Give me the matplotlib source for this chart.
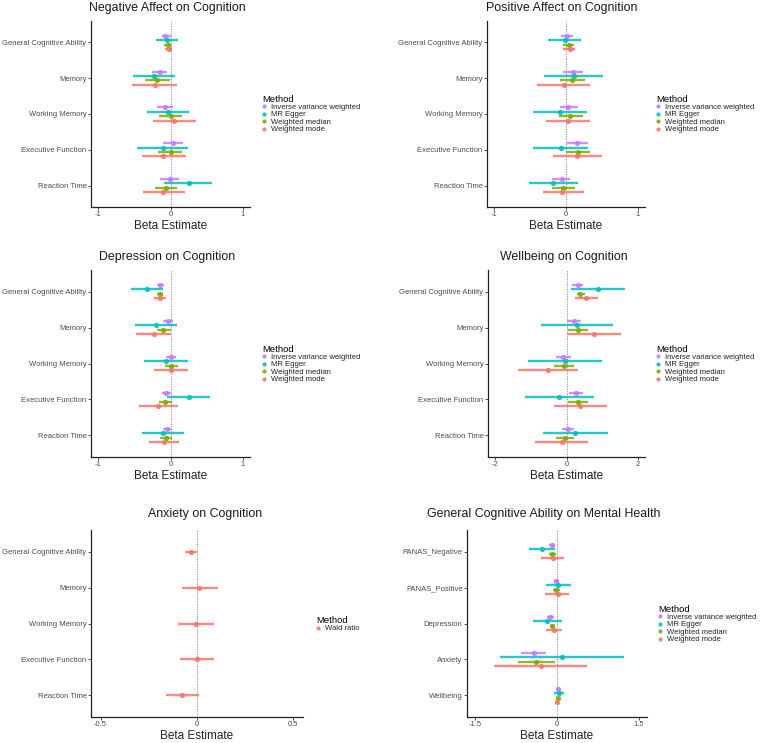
import matplotlib
matplotlib.use("Agg")
import matplotlib.pyplot as plt
from matplotlib.lines import Line2D

plt.rcParams['font.family'] = ['Liberation Sans', 'DejaVu Sans']

# ---------------- data: (estimate, lower CI, upper CI) per outcome ----------------
cog_outcomes = ["General Cognitive Ability", "Memory", "Working Memory",
                "Executive Function", "Reaction Time"]
mh_outcomes = ["PANAS_Negative", "PANAS_Positive", "Depression", "Anxiety", "Wellbeing"]
methods = ["Inverse variance weighted", "MR Egger", "Weighted median", "Weighted mode"]
method_colors = ["#C77CFF", "#00BFC4", "#7CAE00", "#F8766D"]

# Negative Affect on Cognition
neg_ivw = [(-0.07, -0.12, 0.00), (-0.15, -0.26, -0.05), (-0.08, -0.19, 0.04), (0.03, -0.10, 0.17), (-0.01, -0.15, 0.12)]
neg_egger = [(-0.05, -0.20, 0.11), (-0.23, -0.52, 0.06), (-0.03, -0.33, 0.26), (-0.11, -0.46, 0.24), (0.25, -0.09, 0.58)]
neg_median = [(-0.04, -0.09, 0.01), (-0.18, -0.35, -0.01), (0.00, -0.16, 0.16), (0.00, -0.17, 0.16), (-0.06, -0.21, 0.09)]
neg_mode = [(-0.02, -0.07, 0.02), (-0.22, -0.53, 0.09), (0.05, -0.24, 0.35), (-0.10, -0.39, 0.21), (-0.10, -0.38, 0.20)]

# Positive Affect on Cognition
pos_ivw = [(0.01, -0.07, 0.10), (0.10, -0.04, 0.24), (0.03, -0.09, 0.17), (0.16, 0.02, 0.30), (-0.06, -0.19, 0.06)]
pos_egger = [(-0.02, -0.25, 0.21), (0.11, -0.31, 0.51), (-0.09, -0.46, 0.29), (-0.07, -0.46, 0.31), (-0.18, -0.52, 0.17)]
pos_median = [(0.04, -0.04, 0.11), (0.08, -0.09, 0.27), (0.06, -0.10, 0.24), (0.17, 0.00, 0.34), (-0.04, -0.20, 0.13)]
pos_mode = [(0.05, -0.04, 0.13), (-0.03, -0.40, 0.34), (0.03, -0.28, 0.34), (0.16, -0.18, 0.50), (-0.05, -0.32, 0.25)]

# Depression on Cognition
dep_ivw = [(-0.14, -0.19, -0.09), (-0.03, -0.10, 0.04), (0.01, -0.06, 0.08), (-0.06, -0.12, 0.01), (-0.05, -0.11, 0.01)]
dep_egger = [(-0.33, -0.55, -0.11), (-0.20, -0.49, 0.09), (-0.06, -0.37, 0.24), (0.25, -0.05, 0.55), (-0.10, -0.39, 0.18)]
dep_median = [(-0.14, -0.18, -0.10), (-0.10, -0.18, 0.00), (0.01, -0.07, 0.11), (-0.07, -0.16, 0.02), (-0.06, -0.14, 0.02)]
dep_mode = [(-0.14, -0.23, -0.06), (-0.23, -0.48, 0.01), (0.01, -0.23, 0.24), (-0.17, -0.43, 0.10), (-0.09, -0.30, 0.12)]

# Wellbeing on Cognition
wb_ivw = [(0.32, 0.16, 0.47), (0.20, 0.00, 0.42), (-0.09, -0.29, 0.13), (0.26, 0.07, 0.45), (0.04, -0.14, 0.22)]
wb_egger = [(0.87, 0.13, 1.63), (0.30, -0.72, 1.30), (-0.05, -1.08, 1.00), (-0.20, -1.17, 0.76), (0.25, -0.66, 1.16)]
wb_median = [(0.39, 0.30, 0.51), (0.33, 0.03, 0.60), (-0.07, -0.35, 0.20), (0.32, 0.05, 0.59), (-0.03, -0.29, 0.22)]
wb_mode = [(0.56, 0.25, 0.87), (0.76, 0.00, 1.53), (-0.52, -1.37, 0.33), (0.39, -0.35, 1.14), (-0.14, -0.87, 0.60)]

# Anxiety on Cognition (Wald ratio)
anx_wald = [(-0.03, -0.06, 0.00), (0.01, -0.08, 0.11), (-0.005, -0.10, 0.09), (0.00, -0.09, 0.09), (-0.08, -0.16, 0.01)]

# General Cognitive Ability on Mental Health
gca_ivw = [(-0.10, -0.15, -0.06), (-0.01, -0.05, 0.04), (-0.12, -0.18, -0.06), (-0.43, -0.66, -0.21), (0.02, -0.01, 0.05)]
gca_egger = [(-0.27, -0.52, -0.04), (0.02, -0.21, 0.26), (-0.18, -0.44, 0.09), (0.10, -1.04, 1.23), (0.03, -0.05, 0.12)]
gca_median = [(-0.09, -0.15, -0.02), (-0.01, -0.07, 0.06), (-0.09, -0.13, -0.04), (-0.38, -0.71, -0.04), (0.01, -0.02, 0.04)]
gca_mode = [(-0.08, -0.29, 0.13), (0.01, -0.22, 0.22), (-0.06, -0.20, 0.09), (-0.30, -1.16, 0.55), (0.00, -0.03, 0.03)]

W, H = 763, 743
fig = plt.figure(figsize=(W / 100, H / 100), dpi=100)


def px_axes(x0, y0, x1, y1):
    return fig.add_axes([x0 / W, (H - y1) / H, (x1 - x0) / W, (y1 - y0) / H])


def draw_panel(ax, series, colors, labels, cats, lim, ticks, ticklabels):
    n = len(series)
    offsets = [(-(n - 1) / 2 + i) * 0.125 for i in range(n)] if n > 1 else [0.0]
    ax.axvline(0, color="#808080", lw=0.6, ls=(0, (1.5, 1.5)), zorder=1)
    for s, c, off in zip(series, colors, offsets):
        for j, (est, lo, hi) in enumerate(s):
            yy = j + 1 + off
            ax.plot([lo, hi], [yy, yy], color=c, lw=1.7, alpha=0.85, solid_capstyle="butt", zorder=2)
            ax.plot([est], [yy], "o", color=c, ms=3.8, mew=0, alpha=0.9, zorder=3)
    ax.set_ylim(len(cats) + 0.6, 0.4)
    ax.set_xlim(lim * -1.1, lim * 1.1)
    ax.set_yticks(range(1, len(cats) + 1))
    ax.set_yticklabels(cats)
    ax.set_xticks(ticks)
    ax.set_xticklabels(ticklabels)
    for sp in ("top", "right"):
        ax.spines[sp].set_visible(False)
    for sp in ("left", "bottom"):
        ax.spines[sp].set_color("#222222")
        ax.spines[sp].set_linewidth(0.9)
    ax.tick_params(axis="both", length=2.2, width=0.6, color="#333333",
                   labelcolor="#4D4D4D", labelsize=5.5, pad=1.0)
    ax.set_xlabel("Beta Estimate", fontsize=8.5, color="#222222", labelpad=1.3)


def add_title(text, xc, yc):
    fig.text(xc / W, 1 - yc / H, text, ha="center", va="center", fontsize=8.9, color="#1a1a1a")


def add_legend(ax, labels, colors, x, ycenter):
    handles = [Line2D([0], [0], marker="o", ls="none", color=c, ms=3.0, mew=0, alpha=0.9)
               for c in colors]
    leg = ax.legend(handles, labels, title="Method", loc="center left",
                    bbox_to_anchor=(x / W, 1 - ycenter / H), bbox_transform=fig.transFigure,
                    frameon=False, fontsize=5.5, title_fontsize=6.8, labelspacing=0.0,
                    handlelength=0.6, handletextpad=0.6, borderpad=0, borderaxespad=0,
                    alignment="left")
    for t in leg.get_texts():
        t.set_color("#222222")


ticks1 = [-1, 0, 1]
ticks1_lbl = ["-1", "0", "1"]

ax1 = px_axes(91, 21, 250, 207)
draw_panel(ax1, [neg_ivw, neg_egger, neg_median, neg_mode], method_colors, methods,
           cog_outcomes, 1.0, ticks1, ticks1_lbl)
add_title("Negative Affect on Cognition", 167, 8)
add_legend(ax1, methods, method_colors, 262, 114)

ax2 = px_axes(487, 21, 645, 207)
draw_panel(ax2, [pos_ivw, pos_egger, pos_median, pos_mode], method_colors, methods,
           cog_outcomes, 1.0, ticks1, ticks1_lbl)
add_title("Positive Affect on Cognition", 562, 8)
add_legend(ax2, methods, method_colors, 656, 114)

ax3 = px_axes(91, 270, 250, 457)
draw_panel(ax3, [dep_ivw, dep_egger, dep_median, dep_mode], method_colors, methods,
           cog_outcomes, 1.0, ticks1, ticks1_lbl)
add_title("Depression on Cognition", 167, 257)
add_legend(ax3, methods, method_colors, 262, 364)

ax4 = px_axes(488, 270, 645, 457)
draw_panel(ax4, [wb_ivw, wb_egger, wb_median, wb_mode], method_colors, methods,
           cog_outcomes, 2.0, [-2, 0, 2], ["-2", "0", "2"])
add_title("Wellbeing on Cognition", 564, 257)
add_legend(ax4, methods, method_colors, 656, 364)

ax5 = px_axes(91, 530, 303, 717)
draw_panel(ax5, [anx_wald], ["#F8766D"], ["Wald ratio"],
           cog_outcomes, 0.5, [-0.5, 0, 0.5], ["-0.5", "0", "0.5"])
add_title("Anxiety on Cognition", 205, 514)
add_legend(ax5, ["Wald ratio"], ["#F8766D"], 316, 624)

ax6 = px_axes(467, 530, 647, 717)
draw_panel(ax6, [gca_ivw, gca_egger, gca_median, gca_mode], method_colors, methods,
           mh_outcomes, 1.5, [-1.5, 0, 1.5], ["-1.5", "0", "1.5"])
add_title("General Cognitive Ability on Mental Health", 544, 514)
add_legend(ax6, methods, method_colors, 658, 624)

fig.savefig("out.png", dpi=100, facecolor="white")
